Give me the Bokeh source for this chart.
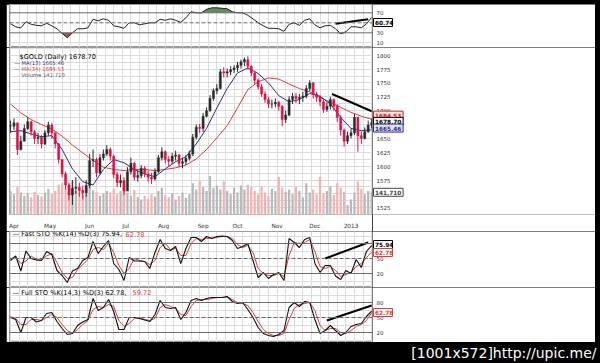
import numpy as np
from bokeh.plotting import figure
from bokeh.models import Range1d, FixedTicker, Span, Label, GlobalInlineStyleSheet, Spacer
from bokeh.layouts import column, row
from bokeh.core.properties import value
from bokeh.embed import file_html
from bokeh.resources import INLINE

# ---------------- data (trading-day index from 2 Apr 2012) ----------------
day2 = list(range(0, 211, 2))
close = [1672, 1678, 1630, 1645, 1668, 1680, 1662, 1650, 1652, 1640,
         1660, 1674, 1660, 1640, 1612, 1586, 1566, 1548, 1560, 1562,
         1556, 1552, 1565, 1610, 1612, 1588, 1615, 1622, 1630, 1618,
         1585, 1570, 1574, 1555, 1590, 1605, 1580, 1583, 1596, 1586,
         1580, 1577, 1590, 1615, 1626, 1612, 1609, 1618, 1620, 1605,
         1608, 1614, 1622, 1652, 1670, 1668, 1690, 1700, 1722, 1736,
         1740, 1770, 1768, 1770, 1774, 1777, 1782, 1788, 1792, 1780,
         1768, 1755, 1743, 1730, 1720, 1712, 1712, 1715, 1708, 1684,
         1692, 1720, 1726, 1722, 1724, 1726, 1740, 1750, 1730, 1724,
         1716, 1702, 1708, 1720, 1708, 1688, 1665, 1645, 1655, 1660,
         1688, 1655, 1650, 1662, 1674, 1678.7]
high = [1682, 1686, 1660, 1655, 1675, 1688, 1682, 1665, 1660, 1656,
        1665, 1680, 1678, 1660, 1642, 1612, 1590, 1570, 1575, 1580,
        1570, 1565, 1575, 1622, 1630, 1615, 1622, 1630, 1638, 1634,
        1620, 1590, 1585, 1580, 1598, 1615, 1608, 1592, 1602, 1600,
        1592, 1588, 1596, 1620, 1634, 1628, 1618, 1624, 1628, 1622,
        1615, 1620, 1628, 1658, 1675, 1676, 1696, 1706, 1728, 1740,
        1748, 1775, 1778, 1776, 1780, 1782, 1788, 1792, 1796, 1798,
        1782, 1772, 1758, 1748, 1735, 1725, 1720, 1722, 1718, 1710,
        1700, 1726, 1732, 1732, 1730, 1734, 1746, 1755, 1752, 1734,
        1728, 1720, 1715, 1725, 1722, 1712, 1692, 1668, 1662, 1668,
        1694, 1688, 1662, 1670, 1682, 1686]
low = [1660, 1665, 1620, 1628, 1645, 1665, 1655, 1640, 1640, 1632,
       1638, 1655, 1650, 1632, 1605, 1580, 1558, 1538, 1530, 1550,
       1545, 1540, 1545, 1560, 1598, 1580, 1585, 1610, 1618, 1610,
       1578, 1562, 1562, 1548, 1555, 1585, 1574, 1572, 1578, 1580,
       1572, 1568, 1574, 1588, 1610, 1605, 1600, 1604, 1610, 1598,
       1596, 1602, 1610, 1618, 1648, 1660, 1662, 1688, 1698, 1718,
       1730, 1738, 1760, 1760, 1764, 1768, 1770, 1776, 1780, 1774,
       1762, 1748, 1738, 1725, 1714, 1705, 1704, 1706, 1700, 1672,
       1678, 1690, 1712, 1714, 1712, 1716, 1722, 1735, 1722, 1716,
       1708, 1696, 1698, 1702, 1700, 1680, 1655, 1635, 1640, 1650,
       1656, 1626, 1640, 1648, 1660, 1668]
volume_k = [150, 130, 175, 140, 120, 135, 110, 145, 125, 115,
            140, 165, 130, 150, 190, 200, 165, 185, 210, 150,
            140, 160, 130, 175, 155, 145, 120, 135, 150, 140,
            165, 130, 150, 175, 140, 120, 155, 110, 95, 120,
            100, 130, 115, 150, 170, 125, 110, 135, 95, 120,
            140, 105, 130, 200, 160, 215, 175, 150, 245, 170,
            185, 160, 210, 150, 130, 170, 140, 185, 160, 190,
            175, 150, 130, 180, 140, 120, 165, 150, 240, 170,
            145, 160, 130, 175, 150, 110, 200, 140, 160, 130,
            240, 135, 150, 180, 125, 200, 170, 145, 60, 95,
            140, 210, 165, 130, 150, 141.71]

day6 = list(range(0, 211, 6))
ma13 = [1662, 1664, 1658, 1653, 1655, 1630, 1595, 1572, 1566, 1594,
        1612, 1606, 1594, 1586, 1581, 1595, 1608, 1617, 1640, 1668,
        1705, 1740, 1768, 1777, 1767, 1750, 1727, 1716, 1720, 1731,
        1726, 1712, 1688, 1668, 1664, 1665.46]
ma34 = [1712, 1696, 1684, 1675, 1667, 1654, 1638, 1624, 1610, 1598,
        1594, 1592, 1594, 1594, 1592, 1594, 1597, 1602, 1613, 1630,
        1651, 1673, 1705, 1738, 1752, 1759, 1757, 1748, 1740, 1734,
        1724, 1715, 1706, 1697, 1690, 1684.53]

day3 = list(range(0, 211, 3))
rsi = [48, 42, 40, 52, 47, 45, 44, 49, 44, 38,
       29, 20, 30, 38, 38, 40, 57, 54, 58, 55,
       44, 42, 39, 50, 50, 46, 48, 50, 50, 57,
       55, 58, 55, 51, 60, 72, 70, 70, 77, 80,
       80, 79, 78, 72, 70, 70, 65, 58, 50, 44,
       39, 39, 38, 33, 47, 50, 45, 55, 58, 46,
       40, 44, 45, 38, 28, 32, 42, 42, 40, 48,
       60.74]
fast_k = [46, 55, 25, 65, 50, 47, 46, 64, 58, 26,
          16, 2, 25, 30, 46, 52, 84, 60, 74, 86,
          40, 28, 6, 52, 45, 45, 44, 30, 62, 88,
          70, 66, 74, 40, 70, 92, 92, 84, 94, 90,
          94, 95, 94, 86, 70, 74, 80, 46, 12, 22,
          10, 18, 22, 6, 90, 82, 72, 88, 92, 40,
          22, 36, 36, 15, 8, 26, 20, 48, 32, 64,
          75.94]
fast_d = [50, 52, 40, 45, 55, 48, 47, 55, 60, 42,
          22, 10, 12, 28, 38, 48, 68, 72, 68, 80,
          62, 36, 20, 30, 50, 46, 44, 38, 46, 72,
          80, 68, 70, 56, 56, 80, 90, 88, 90, 91,
          92, 94, 94, 90, 78, 72, 76, 62, 30, 20,
          16, 16, 20, 14, 56, 82, 80, 82, 88, 64,
          34, 30, 34, 26, 14, 18, 22, 34, 40, 52,
          62.78]
full_k = [50, 46, 20, 50, 50, 41, 44, 58, 60, 42,
          28, 16, 18, 34, 41, 46, 88, 64, 70, 86,
          62, 26, 26, 50, 50, 48, 45, 42, 56, 84,
          70, 68, 70, 46, 60, 84, 88, 84, 88, 90,
          90, 90, 92, 82, 78, 80, 66, 50, 30, 18,
          14, 12, 16, 24, 70, 80, 72, 82, 80, 46,
          18, 24, 34, 24, 14, 20, 32, 36, 38, 52,
          62.78]
full_d = [52, 48, 36, 36, 46, 46, 44, 50, 56, 50,
          36, 24, 18, 26, 36, 44, 66, 72, 70, 76,
          72, 44, 32, 38, 48, 50, 46, 44, 48, 70,
          76, 72, 68, 56, 54, 72, 84, 86, 86, 88,
          90, 90, 91, 86, 80, 78, 74, 60, 42, 26,
          18, 14, 14, 18, 46, 68, 76, 78, 80, 64,
          34, 24, 28, 28, 20, 18, 24, 32, 36, 44,
          59.72]

# hand-drawn trend lines (start/end)
price_trend_x, price_trend_y = [187, 210], [1730, 1699]
rsi_trend_x, rsi_trend_y = [189, 208], [48, 57]
fast_trend_x, fast_trend_y = [183, 208], [50, 82]
full_trend_x, full_trend_y = [184, 210], [44, 74]

month_ticks = [0, 21, 44, 65, 87, 110, 130, 153, 175, 196]
month_labels = ["Apr", "May", "Jun", "Jul", "Aug", "Sep", "Oct", "Nov", "Dec", "2013"]
price_ticks = list(range(1525, 1801, 25))
rsi_ticks = [10, 30, 50, 70]
sto_ticks = [20, 50, 80]

# ---------------- styling helpers ----------------
FONT = "DejaVu Sans"
MAIN_W = 366      # 6..372 on the page (frame 9..372)
SIDE_W = 223      # 372..595 on the page
RED = "#dd1144"
UP = "#2a2a2a"
xr = Range1d(-0.6, 210.5)
weeks = list(range(0, 211, 5))


def main_pane(height, yr, gridticks, bottom=0, with_x=False):
    p = figure(width=MAIN_W, height=height, x_range=xr, y_range=yr, output_backend="svg",
               toolbar_location=None, y_axis_location=None,
               x_axis_location="below" if with_x else None,
               min_border_left=3, min_border_right=0, min_border_top=0,
               min_border_bottom=bottom)
    p.outline_line_color = "#9a9a9a"
    p.background_fill_color = "white"
    p.border_fill_color = "white"
    p.xgrid.ticker = FixedTicker(ticks=weeks)
    p.ygrid.ticker = FixedTicker(ticks=gridticks)
    p.xgrid.grid_line_color = "#dcdcdc"
    p.ygrid.grid_line_color = "#dcdcdc"
    return p


def side_pane(height, yr, ticks, bottom=0):
    s = figure(width=SIDE_W, height=height, x_range=Range1d(372, 595), y_range=yr,
               output_backend="svg", toolbar_location=None, x_axis_location=None,
               y_axis_location=None, min_border=0, min_border_bottom=bottom,
               outline_line_color=None, background_fill_color="white",
               border_fill_color="white")
    s.xgrid.visible = False
    s.ygrid.visible = False
    s.text(x=[376] * len(ticks), y=ticks, text=[str(t) for t in ticks],
           text_font=value(FONT), text_font_size="5.5px", text_color="#333333",
           text_baseline="middle", text_align="left")
    return s


def box(s, y, text, color, fill="white", rng="default"):
    w = 5.3 * len(text) - 7.5
    s.rect(x=[373 + w / 2], y=[y], width=w, height=8, height_units="screen",
           fill_color=fill, line_color=color, line_width=1, y_range_name=rng)
    s.text(x=[374.5], y=[y], text=[text], text_font=value(FONT), text_font_size="5.8px",
           text_color=color, text_font_style="bold", text_baseline="middle",
           text_align="left", y_range_name=rng)


def lab(p, x, y, text, size="6.6px", color="black"):
    p.add_layout(Label(x=x, y=y, text=text, text_font=FONT, text_font_size=size,
                       text_color=color, text_baseline="middle", text_align="left"))


def hlines(p, solid, dashed):
    for v in solid:
        p.add_layout(Span(location=v, dimension="width", line_color="#6a6a6a", line_width=1))
    for v in dashed:
        p.add_layout(Span(location=v, dimension="width", line_color="#6a6a6a",
                          line_width=1, line_dash="4 2"))


# ---------------- RSI pane ----------------
rsi_yr = Range1d(0.6, 86.6)
rsi_p = main_pane(43, rsi_yr, [10, 90])
hlines(rsi_p, [70, 30], [50])
rsi_arr = np.array(rsi, dtype=float)
rsi_p.varea(x=day3, y1=np.full(len(day3), 70.0), y2=np.maximum(rsi_arr, 70),
            fill_color="#5e8d5e")
rsi_p.varea(x=day3, y1=np.minimum(rsi_arr, 30), y2=np.full(len(day3), 30.0),
            fill_color="#9c5656")
rsi_p.line(day3, rsi, line_color="#222222", line_width=1)
rsi_p.line(rsi_trend_x, rsi_trend_y, line_color="black", line_width=2)
rsi_s = side_pane(43, rsi_yr, rsi_ticks)
box(rsi_s, 50.6, "60.74", "black")

# ---------------- price pane ----------------
price_yr = Range1d(1512.8, 1813.9)
vol_yr = Range1d(0, 1066)
price = main_pane(184, price_yr, list(np.arange(1512.5, 1813, 12.5)), bottom=11, with_x=True)
price.extra_y_ranges = {"vol": vol_yr}
opens = [close[0]] + close[:-1]
up = [c >= o for c, o in zip(close, opens)]
bar_col = [UP if u else RED for u in up]
vol_col = ["#b9b9b9" if u else "#f2b3b5" for u in up]
price.vbar(x=day2, bottom=0, top=volume_k, width=1.3, fill_color=vol_col,
           line_color=None, y_range_name="vol")
price.line(day6, ma34, line_color="#e23b3b", line_width=1)
price.line(day6, ma13, line_color="#2d2d8f", line_width=1)
price.segment(x0=day2, y0=low, x1=day2, y1=high, line_color=bar_col, line_width=1)
price.vbar(x=day2, bottom=opens, top=close, width=1.2, fill_color=bar_col, line_color=bar_col,
           line_width=0.5)
price.line(price_trend_x, price_trend_y, line_color="black", line_width=2)

xa = price.xaxis[0]
xa.ticker = FixedTicker(ticks=[m + 2 for m in month_ticks])
xa.major_label_overrides = {m + 2: t for m, t in zip(month_ticks, month_labels)}
xa.axis_line_color = None
xa.major_tick_line_color = None
xa.minor_tick_line_color = None
xa.major_label_text_font_size = "5.8px"
xa.major_label_text_font = FONT
xa.major_label_text_color = "#333333"
xa.major_label_standoff = 2

lab(price, 5.2, 1796.5, "$GOLD (Daily) 1678.70", size="6.6px", color="black")
lab(price, 2.3, 1785.5, "\u2014 MA(13) 1665.46", size="5.3px", color="#2d2d8f")
lab(price, 2.3, 1775.1, "\u2014 MA(34) 1684.53", size="5.3px", color="#e23b3b")
lab(price, 6.4, 1763.9, "Volume 141,710", size="5.3px", color="#555555")

price_s = side_pane(184, price_yr, price_ticks, bottom=11)
price_s.extra_y_ranges = {"vol": vol_yr}
box(price_s, 141.71, "141,710", "#444444", rng="vol")
box(price_s, 1692, "1684.53", "#d02020", fill="#fbe3e3")
box(price_s, 1680.7, "1678.70", "black")
box(price_s, 1668.6, "1665.46", "#2d2d8f", fill="#e2e4f6")

# ---------------- Fast STO ----------------
fast_yr = Range1d(-8, 104)
fast = main_pane(56, fast_yr, [5, 20, 35, 50, 65, 80, 95])
hlines(fast, [80, 20], [50])
fast.line(day3, fast_d, line_color="#e03a3a", line_width=1)
fast.line(day3, fast_k, line_color="#111111", line_width=1.1)
fast.line(fast_trend_x, fast_trend_y, line_color="black", line_width=2)
lab(fast, 1.2, 99, "\u2014 Fast STO %K(14) %D(3) 75.94,")
lab(fast, 66.9, 99, "62.78", color="#e03a3a")
fast_s = side_pane(56, fast_yr, sto_ticks)
box(fast_s, 78, "75.94", "black")
box(fast_s, 62, "62.78", "#e03a3a")

# ---------------- Full STO ----------------
full_yr = Range1d(0, 110)
full = main_pane(55, full_yr, [5, 20, 35, 50, 65, 80, 95])
hlines(full, [80, 20], [50])
full.line(day3, full_d, line_color="#e03a3a", line_width=1)
full.line(day3, full_k, line_color="#111111", line_width=1.1)
full.line(full_trend_x, full_trend_y, line_color="black", line_width=2)
lab(full, 1.2, 100, "\u2014 Full STO %K(14,3) %D(3) 62.78,")
lab(full, 70.9, 100, "59.72", color="#e03a3a")
full_s = side_pane(55, full_yr, sto_ticks)
box(full_s, 60, "62.78", "#e03a3a")

# ---------------- bottom band ----------------
band = figure(width=600, height=21, x_range=Range1d(0, 600), y_range=Range1d(0, 21),
              output_backend="svg", toolbar_location=None, x_axis_location=None,
              y_axis_location=None, min_border=0, background_fill_color="black",
              border_fill_color="black", outline_line_color=None)
band.xgrid.visible = False
band.ygrid.visible = False
band.text(x=[596], y=[10.5], text=["[1001x572]http://upic.me/"], text_color="white",
          text_font=value(FONT), text_font_size="14px", text_align="right",
          text_baseline="middle")

charts = column(row(rsi_p, rsi_s, spacing=0), row(price, price_s, spacing=0),
                row(fast, fast_s, spacing=0), row(full, full_s, spacing=0), spacing=0)
layout = column(Spacer(width=600, height=4),
                row(Spacer(width=6, height=338), charts, spacing=0),
                band, spacing=0,
                stylesheets=[GlobalInlineStyleSheet(css="html, body { background-color: #000; }")])

open("out.html", "w").write(file_html(layout, INLINE))
